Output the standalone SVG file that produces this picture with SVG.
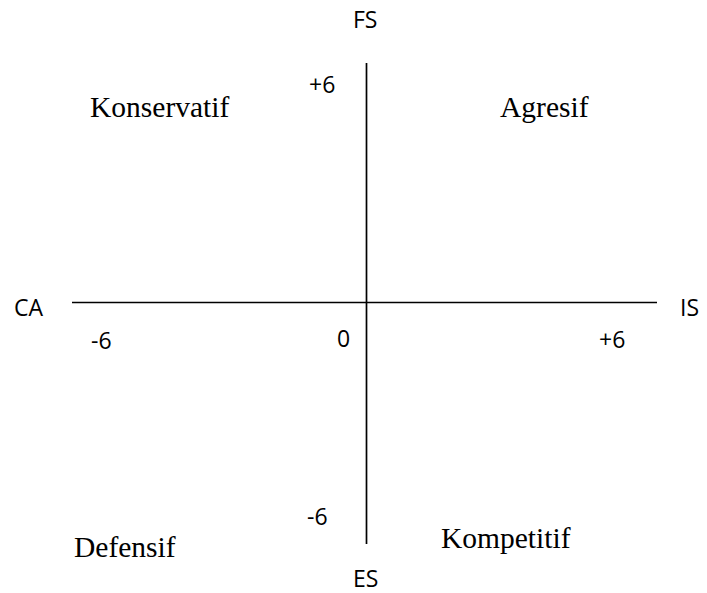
<svg xmlns="http://www.w3.org/2000/svg" width="707" height="593" viewBox="0 0 707 593">
<style>
.ax{stroke:#000;stroke-width:1.7;fill:none}
.s{font-family:"Open Sans","Liberation Sans",sans-serif;font-size:23px;fill:#000}
.q{font-family:"Liberation Serif","Times New Roman",serif;font-size:29.5px;fill:#000}
</style>
<rect width="707" height="593" fill="#fff"/>
<g id="connectors">
<line class="ax" x1="366.5" y1="63" x2="366.5" y2="544"/>
<line class="ax" x1="72" y1="302.5" x2="657" y2="302.5"/>
</g>
<g id="axis-labels">
<text class="s" x="353" y="28">FS</text>
<text class="s" x="353" y="587">ES</text>
<text class="s" x="14" y="316">CA</text>
<text class="s" x="680" y="316">IS</text>
</g>
<g id="scale-labels">
<text class="s" x="309" y="93">+6</text>
<text class="s" x="307" y="525">-6</text>
<text class="s" x="91" y="349">-6</text>
<text class="s" x="337" y="347">0</text>
<text class="s" x="599" y="348">+6</text>
</g>
<g id="konservatif"><text class="q" x="90" y="117">Konservatif</text></g>
<g id="agresif"><text class="q" x="500" y="117">Agresif</text></g>
<g id="defensif"><text class="q" x="74" y="557">Defensif</text></g>
<g id="kompetitif"><text class="q" x="441" y="548">Kompetitif</text></g>
</svg>
